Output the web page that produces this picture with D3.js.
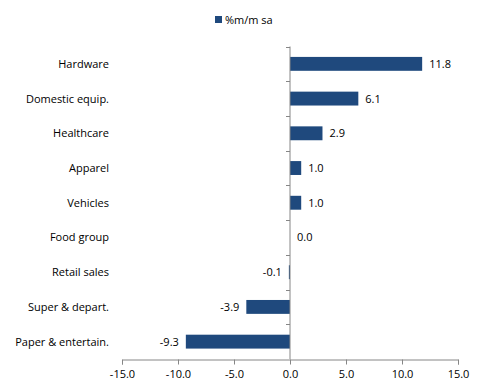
<!DOCTYPE html>
<html lang="en">
<head>
<meta charset="UTF-8">
<script src="https://d3js.org/d3.v7.min.js"></script>
<style>
  body { margin: 0; background: #fff; }
  text { font-family: "Open Sans", "DejaVu Sans", sans-serif; font-size: 11px; fill: #000; }
</style>
</head>
<body>
<svg id="chart" width="485" height="392"></svg>
<script>
// data
var categories = ["Hardware", "Domestic equip.", "Healthcare", "Apparel", "Vehicles",
                  "Food group", "Retail sales", "Super & depart.", "Paper & entertain."];
var values = [11.8, 6.1, 2.9, 1.0, 1.0, 0.0, -0.1, -3.9, -9.3];
var xTicks = [-15, -10, -5, 0, 5, 10, 15];
var seriesName = "%m/m sa";

var svg = d3.select("#chart");
var barColor = "#1f497d", axisColor = "#868686";

var x = d3.scaleLinear().domain([-15, 15]).range([122, 458]);
var y = d3.scaleBand().domain(categories).range([46.5, 359]).paddingInner(0.6).paddingOuter(0.3);
var band = d3.scaleBand().domain(categories).range([46.5, 359]);

// bars
svg.append("g").selectAll("rect")
  .data(values)
  .enter().append("rect")
    .attr("x", function(d) { return x(Math.min(0, d)); })
    .attr("y", function(d, i) { return y(categories[i]); })
    .attr("width", function(d) { return Math.abs(x(d) - x(0)); })
    .attr("height", y.bandwidth())
    .attr("fill", barColor);

// value labels
svg.append("g").selectAll("text")
  .data(values)
  .enter().append("text")
    .attr("x", function(d) { return d < 0 ? x(d) - 7 : x(d) + 7; })
    .attr("y", function(d, i) { return band(categories[i]) + band.bandwidth() / 2 + 4; })
    .attr("text-anchor", function(d) { return d < 0 ? "end" : "start"; })
    .text(function(d) { return d.toFixed(1); });

// category labels
svg.append("g").selectAll("text")
  .data(categories)
  .enter().append("text")
    .attr("x", 109)
    .attr("y", function(d) { return band(d) + band.bandwidth() / 2 + 4; })
    .attr("text-anchor", "end")
    .text(function(d) { return d; });

// vertical axis at zero with category ticks
var yAx = svg.append("g");
yAx.append("line")
  .attr("x1", x(0)).attr("x2", x(0))
  .attr("y1", 46.5).attr("y2", 359)
  .attr("stroke", axisColor);
yAx.selectAll("line.t")
  .data(categories)
  .enter().append("line")
    .attr("class", "t")
    .attr("x1", x(0) - 4).attr("x2", x(0))
    .attr("y1", function(d) { return Math.round(band(d)) + 0.5; })
    .attr("y2", function(d) { return Math.round(band(d)) + 0.5; })
    .attr("stroke", axisColor);

// x axis
var xAxis = svg.append("g")
  .attr("transform", "translate(0,359.5)")
  .call(d3.axisBottom(x).tickValues(xTicks).tickSize(5).tickPadding(6)
        .tickFormat(function(d) { return d.toFixed(1); }));
xAxis.selectAll("path, line").attr("stroke", axisColor);
xAxis.selectAll("text").style("font-family", "'Open Sans', 'DejaVu Sans', sans-serif").style("font-size", "11px").attr("fill", "#000");

// legend
svg.append("rect").attr("x", 215).attr("y", 16).attr("width", 7).attr("height", 7).attr("fill", barColor);
svg.append("text").attr("x", 225).attr("y", 24).text(seriesName);
</script>
</body>
</html>
